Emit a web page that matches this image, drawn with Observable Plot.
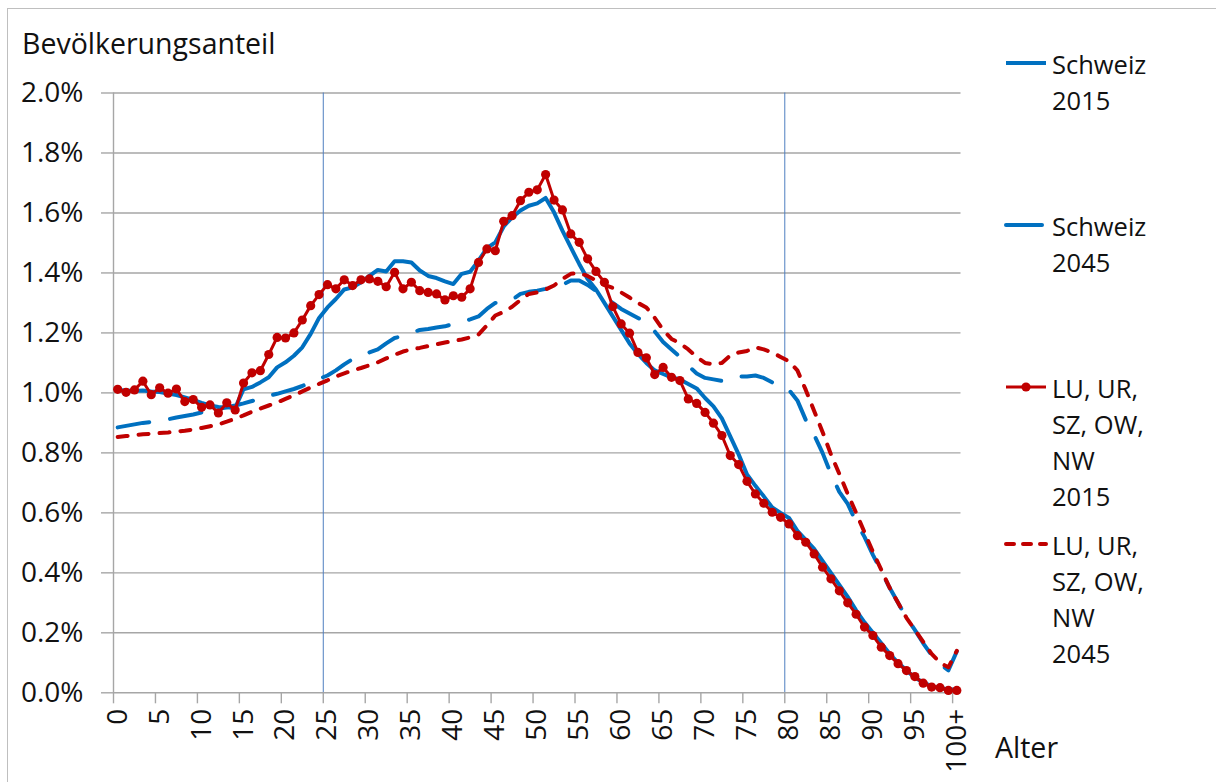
<!DOCTYPE html>
<html>
<head>
<meta charset="utf-8">
<script src="https://cdn.jsdelivr.net/npm/d3@7"></script>
<script src="https://cdn.jsdelivr.net/npm/@observablehq/plot@0.6"></script>
<style>
  html, body { margin: 0; padding: 0; background: #fff; }
  #wrap { position: relative; width: 1216px; height: 782px; overflow: hidden; font-family: "Open Sans", sans-serif; }
  #frame { position: absolute; left: 7px; top: 8px; width: 1300px; height: 900px; border: 1px solid #bfbfbf; box-sizing: border-box; }
  #chart { position: absolute; left: 0; top: 0; }
  #overlay { position: absolute; left: 0; top: 0; }
</style>
</head>
<body>
<div id="wrap">
  <div id="frame"></div>
  <div id="chart"></div>
  <svg id="overlay" width="1216" height="782"></svg>
</div>
<script>
// ---- data (values in percent) ----
const ages = d3.range(0, 101);
const xTickLabels = ["0","5","10","15","20","25","30","35","40","45","50","55","60","65","70","75","80","85","90","95","100+"];
const yTicks = [0, 0.2, 0.4, 0.6, 0.8, 1.0, 1.2, 1.4, 1.6, 1.8, 2.0];
const refAges = [25, 80];

const seriesNames = ["Schweiz 2015", "Schweiz 2045", "LU, UR, SZ, OW, NW 2015", "LU, UR, SZ, OW, NW 2045"];

const schweiz2015 = [
  1.010, 1.008, 1.006, 1.008, 1.005, 1.003, 0.998, 0.993, 0.985, 0.977,
  0.967, 0.958, 0.953, 0.952, 0.950, 1.012, 1.020, 1.035, 1.052, 1.085,
  1.102, 1.124, 1.152, 1.197, 1.250, 1.285, 1.313, 1.345, 1.352, 1.369,
  1.390, 1.410, 1.405, 1.439, 1.439, 1.435, 1.408, 1.390, 1.383, 1.372,
  1.363, 1.397, 1.404, 1.441, 1.483, 1.502, 1.555, 1.585, 1.608, 1.624,
  1.632, 1.650, 1.602, 1.541, 1.485, 1.430, 1.380, 1.345, 1.300, 1.255,
  1.210, 1.165, 1.130, 1.100, 1.075, 1.063, 1.052, 1.045, 1.030, 1.015,
  0.983, 0.955, 0.915, 0.855, 0.795, 0.728, 0.690, 0.655, 0.618, 0.600,
  0.583, 0.540, 0.510, 0.480, 0.440, 0.400, 0.360, 0.320, 0.275, 0.235,
  0.200, 0.165, 0.130, 0.100, 0.075, 0.050, 0.035, 0.022, 0.015, 0.012, 0.010
];
const schweiz2045 = [
  0.885, 0.890, 0.895, 0.900, 0.903, 0.907, 0.912, 0.918, 0.923, 0.928,
  0.935, 0.940, 0.947, 0.952, 0.958, 0.965, 0.973, 0.980, 0.990, 0.997,
  1.005, 1.013, 1.023, 1.035, 1.047, 1.058, 1.075, 1.095, 1.113, 1.125,
  1.135, 1.145, 1.165, 1.183, 1.190, 1.200, 1.210, 1.213, 1.218, 1.222,
  1.230, 1.237, 1.245, 1.255, 1.280, 1.300, 1.302, 1.310, 1.330, 1.337,
  1.341, 1.347, 1.355, 1.360, 1.375, 1.375, 1.360, 1.340, 1.320, 1.300,
  1.280, 1.265, 1.250, 1.235, 1.205, 1.170, 1.145, 1.120, 1.090, 1.065,
  1.050, 1.045, 1.040, 1.050, 1.055, 1.055, 1.058, 1.050, 1.035, 1.025,
  1.010, 0.975, 0.910, 0.860, 0.800, 0.730, 0.670, 0.630, 0.570, 0.520,
  0.460, 0.405, 0.350, 0.300, 0.250, 0.210, 0.165, 0.125, 0.095, 0.075, 0.138
];
const zentral2015 = [
  1.012, 1.002, 1.010, 1.039, 0.994, 1.017, 0.999, 1.013, 0.971, 0.978,
  0.952, 0.960, 0.933, 0.967, 0.943, 1.033, 1.067, 1.074, 1.128, 1.185,
  1.183, 1.200, 1.243, 1.291, 1.328, 1.361, 1.347, 1.377, 1.358, 1.377,
  1.380, 1.372, 1.354, 1.402, 1.347, 1.369, 1.341, 1.335, 1.330, 1.310,
  1.324, 1.319, 1.347, 1.435, 1.480, 1.474, 1.572, 1.591, 1.641, 1.669,
  1.677, 1.728, 1.643, 1.610, 1.530, 1.502, 1.447, 1.405, 1.369, 1.288,
  1.230, 1.199, 1.135, 1.117, 1.061, 1.085, 1.052, 1.041, 0.980, 0.965,
  0.935, 0.899, 0.858, 0.791, 0.761, 0.705, 0.663, 0.632, 0.602, 0.585,
  0.563, 0.524, 0.502, 0.463, 0.419, 0.380, 0.340, 0.300, 0.262, 0.219,
  0.191, 0.152, 0.124, 0.097, 0.074, 0.054, 0.032, 0.019, 0.017, 0.008, 0.008
];
const zentral2045 = [
  0.853, 0.856, 0.859, 0.862, 0.864, 0.866, 0.868, 0.871, 0.874, 0.878,
  0.883, 0.889, 0.895, 0.904, 0.914, 0.925, 0.937, 0.948, 0.958, 0.968,
  0.980, 0.992, 1.005, 1.018, 1.030, 1.042, 1.055, 1.065, 1.075, 1.083,
  1.092, 1.102, 1.115, 1.127, 1.138, 1.145, 1.150, 1.156, 1.162, 1.168,
  1.173, 1.178, 1.185, 1.195, 1.225, 1.258, 1.270, 1.287, 1.310, 1.330,
  1.335, 1.345, 1.358, 1.380, 1.397, 1.400, 1.390, 1.375, 1.360, 1.350,
  1.335, 1.318, 1.300, 1.285, 1.250, 1.210, 1.180, 1.165, 1.145, 1.120,
  1.100, 1.095, 1.100, 1.125, 1.135, 1.140, 1.152, 1.145, 1.135, 1.120,
  1.105, 1.075, 1.010, 0.940, 0.870, 0.795, 0.730, 0.663, 0.600, 0.535,
  0.470, 0.410, 0.350, 0.300, 0.250, 0.210, 0.170, 0.130, 0.100, 0.085, 0.140
];

const BLUE = "#0070C0";
const RED = "#C00000";
const GRID = "#a6a6a6";
const TEXT = "#111111";

const table = ages.map((a, i) => ({
  age: a,
  ch15: schweiz2015[i],
  ch45: schweiz2045[i],
  zs15: zentral2015[i],
  zs45: zentral2045[i]
}));

// category boundaries (ticks) sit half a category before each labelled age
const tickBounds = d3.range(0, 101, 5).map(a => a - 0.5);
const labelAges = d3.range(0, 101, 5);

const chart = Plot.plot({
  width: 1216,
  height: 782,
  marginLeft: 113,
  marginRight: 255.5,
  marginTop: 92.5,
  marginBottom: 89.7,
  style: { fontFamily: "'Open Sans', sans-serif", fontSize: "28px", color: TEXT, background: "transparent", overflow: "visible" },
  x: { domain: [-0.5, 100.5] },
  y: { domain: [0, 2] },
  marks: [
    Plot.ruleY(yTicks, { stroke: GRID, strokeWidth: 1.4 }),
    Plot.ruleX([-0.5], { stroke: GRID, strokeWidth: 1.4 }),
    Plot.ruleX(refAges.map(a => a - 0.5), { stroke: "#4f7fc0", strokeWidth: 1 }),
    Plot.axisY({ ticks: yTicks, tickSize: 12, tickPadding: 18, tickFormat: d => d.toFixed(1) + "%", label: null, stroke: GRID, strokeWidth: 1.4, fill: TEXT, fontSize: 28 }),
    Plot.axisX({ ticks: tickBounds, tickSize: 11, tickFormat: () => "", label: null, stroke: GRID, strokeWidth: 1.4 }),
    Plot.axisX({ ticks: labelAges, tickSize: 0, tickPadding: 16, tickRotate: -90, tickFormat: d => xTickLabels[d / 5], label: null, fill: TEXT, fontSize: 28 }),
    Plot.line(table, { x: "age", y: "ch15", stroke: BLUE, strokeWidth: 4, strokeLinejoin: "round", strokeLinecap: "round" }),
    Plot.line(table, { x: "age", y: "ch45", stroke: BLUE, strokeWidth: 4, strokeDasharray: "32 21", strokeLinecap: "round", strokeLinejoin: "round" }),
    Plot.line(table, { x: "age", y: "zs15", stroke: RED, strokeWidth: 3, strokeLinejoin: "round" }),
    Plot.dot(table, { x: "age", y: "zs15", r: 4.6, fill: RED, stroke: "none" }),
    Plot.line(table, { x: "age", y: "zs45", stroke: RED, strokeWidth: 4, strokeDasharray: "10 11", strokeLinecap: "round", strokeLinejoin: "round" })
  ]
});
document.getElementById("chart").appendChild(chart);

// ---- title, axis name and legend as text overlay ----
const ov = d3.select("#overlay");
ov.append("text").attr("x", 22).attr("y", 54).attr("font-family", "'Open Sans', sans-serif")
  .attr("font-size", 28.5).attr("fill", TEXT).text("Bevölkerungsanteil");
ov.append("text").attr("x", 995).attr("y", 758).attr("font-family", "'Open Sans', sans-serif")
  .attr("font-size", 28.5).attr("fill", TEXT).text("Alter");

const legendItems = [
  { lines: ["Schweiz", "2015"], top: 64, stroke: BLUE, dash: null, dot: false },
  { lines: ["Schweiz", "2045"], top: 226, stroke: BLUE, dash: "32 21", dot: false },
  { lines: ["LU, UR,", "SZ, OW,", "NW", "2015"], top: 388, stroke: RED, dash: null, dot: true, width: 3 },
  { lines: ["LU, UR,", "SZ, OW,", "NW", "2045"], top: 545, stroke: RED, dash: "10 11", dot: false }
];
legendItems.forEach((it, k) => {
  const g = ov.append("g").attr("aria-label", seriesNames[k]);
  const sy = it.top - 1;
  g.append("line").attr("x1", 1006).attr("x2", 1046).attr("y1", sy).attr("y2", sy)
    .attr("stroke", it.stroke).attr("stroke-width", it.width || 4)
    .attr("stroke-linecap", it.dash ? "round" : "butt")
    .attr("stroke-dasharray", it.dash ? (it.dash === "32 21" ? "36 40" : "8 9") : null);
  if (it.dot) g.append("circle").attr("cx", 1026).attr("cy", sy).attr("r", 4.6).attr("fill", it.stroke);
  it.lines.forEach((t, j) => {
    g.append("text").attr("x", 1052).attr("y", it.top + 9.5 + j * 36.3)
      .attr("font-family", "'Open Sans', sans-serif").attr("font-size", 25.5).attr("fill", TEXT).text(t);
  });
});
</script>
</body>
</html>
